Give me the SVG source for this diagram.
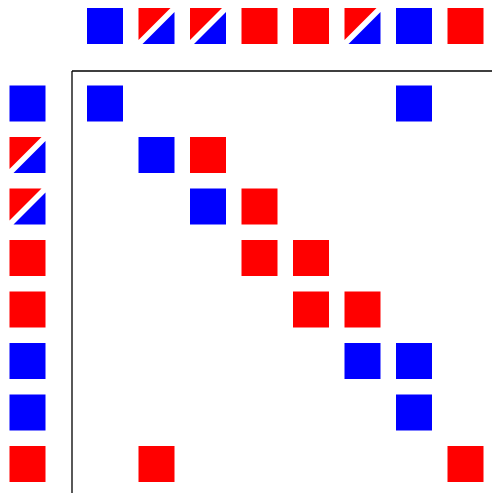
<svg xmlns="http://www.w3.org/2000/svg" width="492" height="493" viewBox="0 0 492 493">
<defs>
<style>
.b{fill:#0000ff}
.r{fill:#ff0000}
.frame{fill:none;stroke:#000;stroke-width:1.3}
</style>
<g id="sq-b"><rect class="b" width="36" height="36"/></g>
<g id="sq-r"><rect class="r" width="36" height="36"/></g>
<g id="sq-s"><polygon class="r" points="0,0 32,0 0,32"/><polygon class="b" points="4,36 36,36 36,4"/></g>
</defs>
<rect width="492" height="493" fill="#fff"/>
<g id="connectors">
<path class="frame" d="M72,71 H492 M72,71 V493"/>
</g>
<g id="top">
<use href="#sq-b" x="87" y="8"/>
<use href="#sq-s" x="138.5" y="8"/>
<use href="#sq-s" x="190" y="8"/>
<use href="#sq-r" x="241.5" y="8"/>
<use href="#sq-r" x="293" y="8"/>
<use href="#sq-s" x="344.5" y="8"/>
<use href="#sq-b" x="396" y="8"/>
<use href="#sq-r" x="447.5" y="8"/>
</g>
<g id="left">
<use href="#sq-b" x="9.5" y="85.5"/>
<use href="#sq-s" x="9.5" y="137"/>
<use href="#sq-s" x="9.5" y="188.5"/>
<use href="#sq-r" x="9.5" y="240"/>
<use href="#sq-r" x="9.5" y="291.5"/>
<use href="#sq-b" x="9.5" y="343"/>
<use href="#sq-b" x="9.5" y="394.5"/>
<use href="#sq-r" x="9.5" y="446"/>
</g>
<g id="matrix">
<use href="#sq-b" x="87" y="85.5"/>
<use href="#sq-b" x="396" y="85.5"/>
<use href="#sq-b" x="138.5" y="137"/>
<use href="#sq-r" x="190" y="137"/>
<use href="#sq-b" x="190" y="188.5"/>
<use href="#sq-r" x="241.5" y="188.5"/>
<use href="#sq-r" x="241.5" y="240"/>
<use href="#sq-r" x="293" y="240"/>
<use href="#sq-r" x="293" y="291.5"/>
<use href="#sq-r" x="344.5" y="291.5"/>
<use href="#sq-b" x="344.5" y="343"/>
<use href="#sq-b" x="396" y="343"/>
<use href="#sq-b" x="396" y="394.5"/>
<use href="#sq-r" x="138.5" y="446"/>
<use href="#sq-r" x="447.5" y="446"/>
</g>
</svg>
